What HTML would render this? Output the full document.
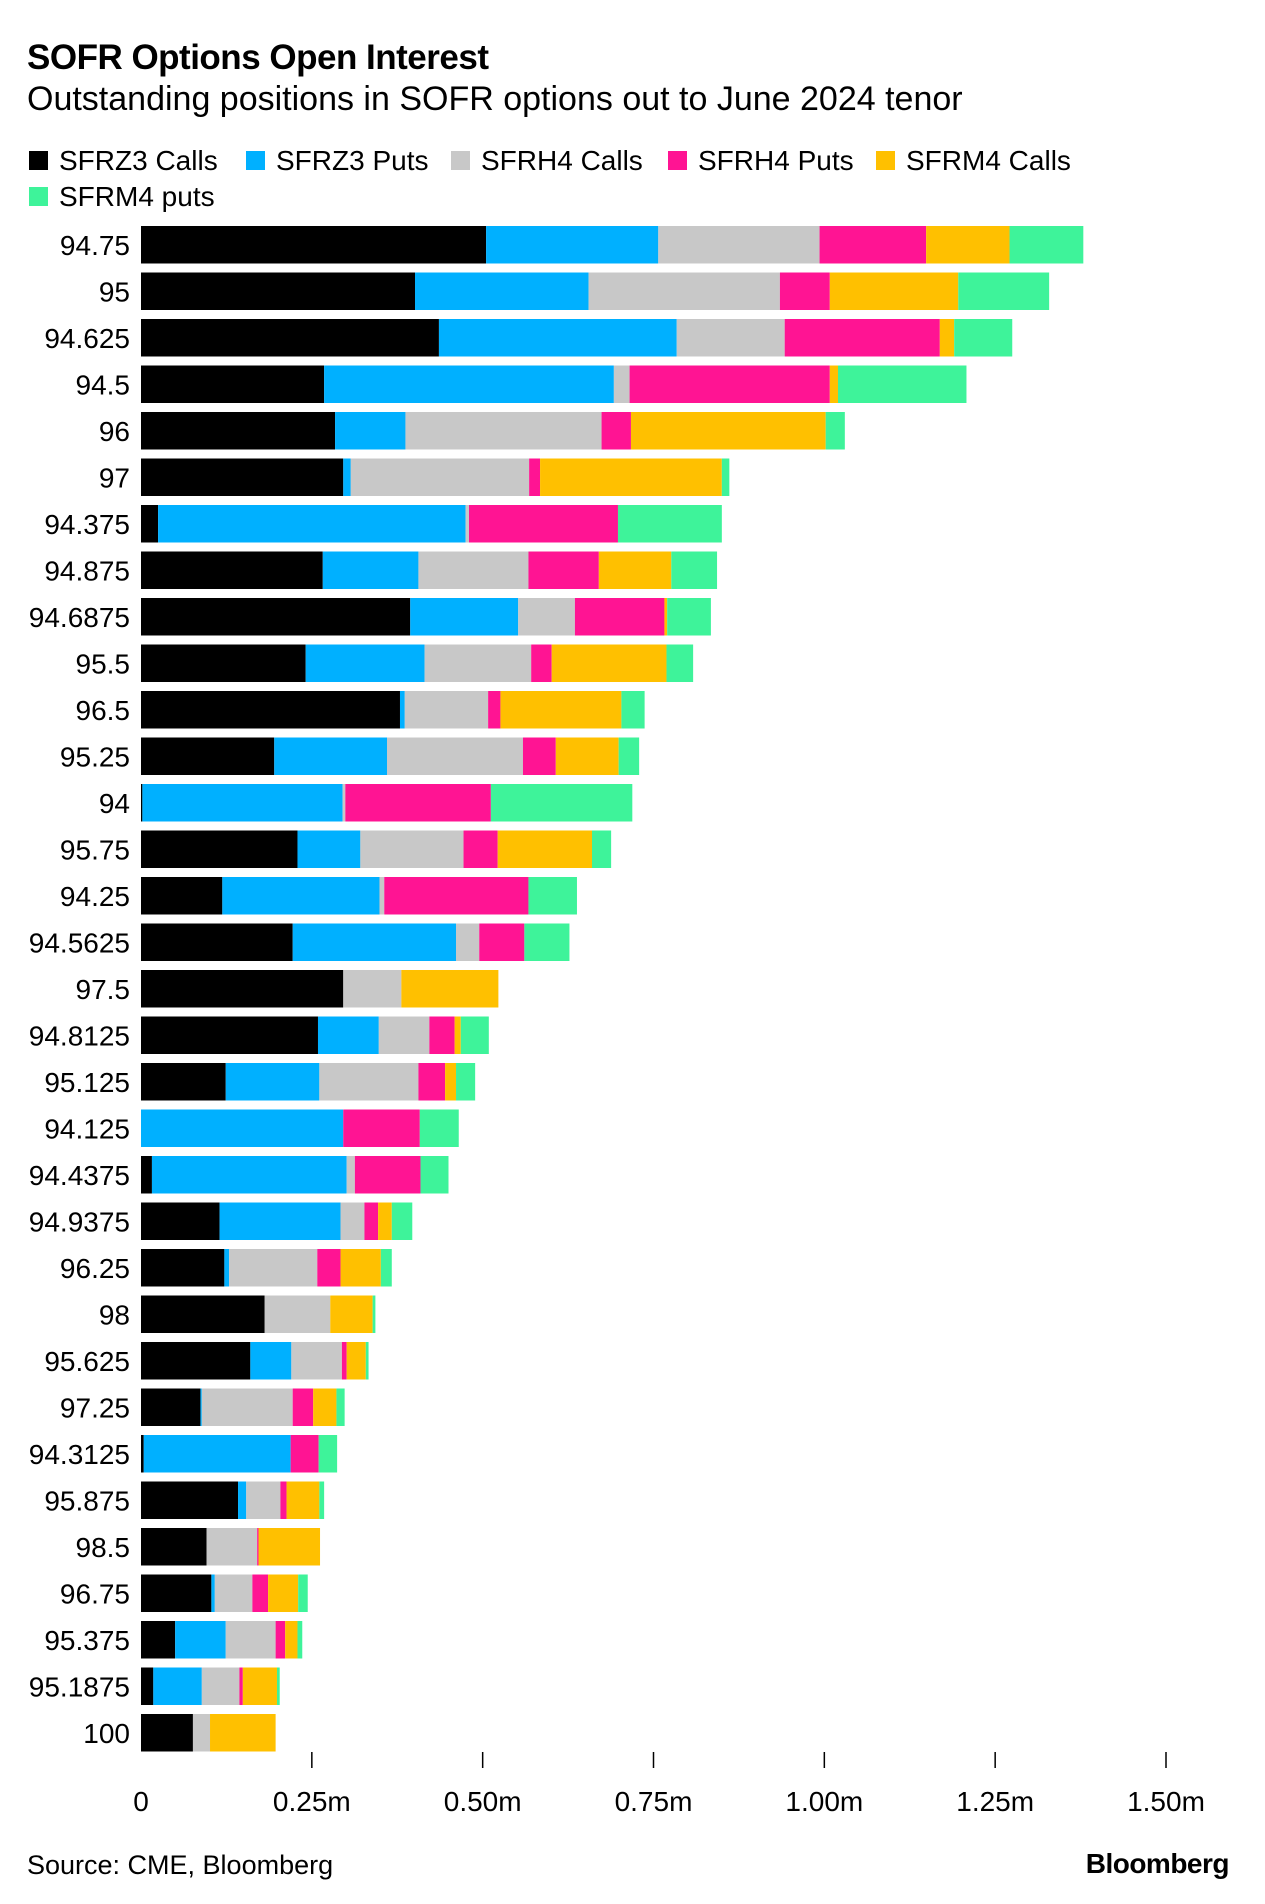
<!DOCTYPE html>
<html><head><meta charset="utf-8"><style>
body{margin:0;background:#fff;font-family:"Liberation Sans",Arial,sans-serif;}
#wrap{position:relative;width:1265px;height:1904px;overflow:hidden;}
.t{position:absolute;white-space:nowrap;color:#000;}
</style></head><body>
<div id="wrap">
<div class="t" style="left:27px;top:38px;font-size:35px;font-weight:bold;letter-spacing:-0.5px;">SOFR Options Open Interest</div>
<div class="t" style="left:27px;top:80px;font-size:34px;">Outstanding positions in SOFR options out to June 2024 tenor</div>
<svg id="chart" width="1265" height="1904" style="position:absolute;left:0;top:0"></svg>
<div class="t" style="left:27px;top:1850px;font-size:27px;">Source: CME, Bloomberg</div>
<div class="t" style="right:36px;top:1848px;font-size:28px;font-weight:bold;letter-spacing:-0.5px;">Bloomberg</div>
</div>
<script>
const categories=["94.75","95","94.625","94.5","96","97","94.375","94.875","94.6875","95.5","96.5","95.25","94","95.75","94.25","94.5625","97.5","94.8125","95.125","94.125","94.4375","94.9375","96.25","98","95.625","97.25","94.3125","95.875","98.5","96.75","95.375","95.1875","100"];
const seriesNames=["SFRZ3 Calls","SFRZ3 Puts","SFRH4 Calls","SFRH4 Puts","SFRM4 Calls","SFRM4 puts"];
// values in thousands of contracts
const z3Calls=[505,401,436,268,284,296,25,266,394,241,379,195,2,229,119,222,296,259,124,0,16,115,122,181,160,87,4,142,96,103,50,18,76];
const z3Puts=[252,254,348,424,103,11,450,140,158,174,7,165,293,92,230,239,0,89,137,296,285,177,7,0,60,2,215,12,0,5,74,71,0];
const h4Calls=[236,280,158,23,287,261,5,161,83,156,122,199,4,151,7,34,85,74,145,0,12,35,129,96,74,133,0,50,74,55,73,55,25];
const h4Puts=[156,73,227,293,43,16,218,103,131,30,18,48,213,50,211,66,0,37,39,112,96,20,34,0,7,30,41,9,2,23,14,5,0];
const m4Calls=[122,188,21,12,285,266,0,106,4,168,177,92,0,138,0,0,142,9,16,0,0,20,59,62,28,34,0,48,90,44,18,50,96];
const m4Puts=[108,133,85,188,28,11,152,67,64,39,34,30,207,28,71,66,0,41,28,57,41,30,16,4,4,12,27,7,0,14,7,4,0];
const tickValues=[0,250,500,750,1000,1250,1500];
const tickLabels=["0","0.25m","0.50m","0.75m","1.00m","1.25m","1.50m"];
const colors=["#000000","#00b0ff","#c8c8c8","#ff1493","#ffc000","#3ef39a"];
const series=[z3Calls,z3Puts,h4Calls,h4Puts,m4Calls,m4Puts];
const NS="http://www.w3.org/2000/svg";
const svg=document.getElementById('chart');
const x0=141, pxPerK=(1166-141)/1500;
const xs=v=>x0+v*pxPerK;
const rowTop=i=>226+i*46.5;
const barH=37.5;
function mk(tag,attrs){const e=document.createElementNS(NS,tag);for(const k in attrs)e.setAttribute(k,attrs[k]);svg.appendChild(e);return e;}
const legX=[29,246,451,668,876,29], legY=[151,151,151,151,151,187];
seriesNames.forEach((n,j)=>{
  const r=mk('rect',{x:legX[j],y:legY[j],width:19,height:19,fill:colors[j]});
  
  
  const t=mk('text',{x:legX[j]+30,y:legY[j]+19,'font-size':28,fill:'#000'});
  t.textContent=n;
  
  
});
categories.forEach((c,i)=>{
  const y=rowTop(i);
  const lab=mk('text',{x:130,y:y+barH/2+10,'font-size':28,'text-anchor':'end',fill:'#000'});
  lab.textContent=c;
  
  
  let cum=0;
  series.forEach((s,j)=>{
    const v=s[i];
    const r=mk('rect',{x:xs(cum),y:y,width:Math.max(0,xs(cum+v)-xs(cum)),height:barH,fill:colors[j]});
    
    
    cum+=v;
  });
});
tickValues.forEach((v,k)=>{
  const x=xs(v);
  if(v>0){
    const l=mk('line',{x1:x,x2:x,y1:1752,y2:1768,stroke:'#000','stroke-width':1.5});
    
    
  }
  const t=mk('text',{x:x,y:1811,'font-size':28,'text-anchor':'middle',fill:'#000'});
  t.textContent=tickLabels[k];
  
  
});
</script>
</body></html>
